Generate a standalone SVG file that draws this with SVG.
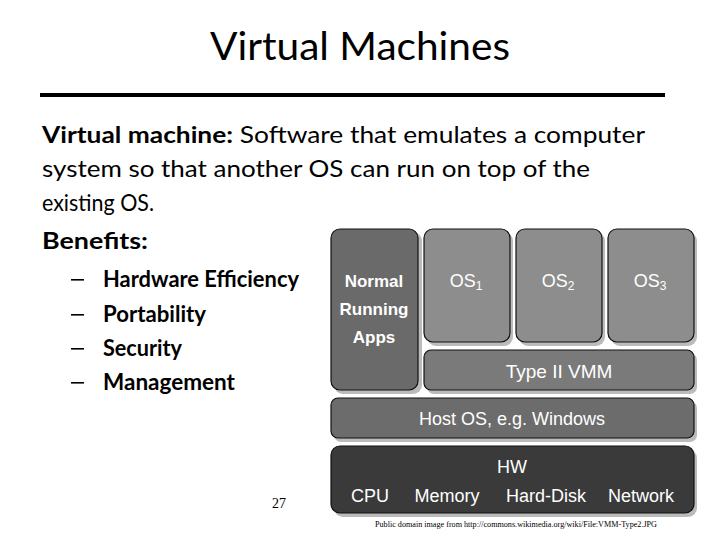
<svg xmlns="http://www.w3.org/2000/svg" width="720" height="540" viewBox="0 0 720 540">
<defs>
<style>
.body{font-family:Lato,"Liberation Sans",Arial,sans-serif;font-size:23px;fill:#000}
.b{font-weight:bold}
.w{font-family:"Liberation Sans",Arial,sans-serif;fill:#fff;text-anchor:middle}
.box{stroke:#111;stroke-width:1.2}
.sh{fill:#bbb}
</style>
</defs>
<rect width="720" height="540" fill="#fff"/>
<text x="360" y="60" text-anchor="middle" font-family="Lato,Liberation Sans,Arial,sans-serif" font-size="39" textLength="300" lengthAdjust="spacingAndGlyphs">Virtual Machines</text>
<rect x="40" y="93" width="625" height="4" fill="#000"/>
<text class="body" x="42" y="143" textLength="603" lengthAdjust="spacingAndGlyphs"><tspan class="b">Virtual machine:</tspan> Software that emulates a computer</text>
<text class="body" x="42" y="177" textLength="548" lengthAdjust="spacingAndGlyphs">system so that another OS can run on top of the</text>
<text class="body" x="42" y="211" textLength="112" lengthAdjust="spacingAndGlyphs">existing OS.</text>
<text class="body b" x="42" y="249" textLength="106" lengthAdjust="spacingAndGlyphs">Benefits:</text>
<g class="body b">
<rect x="71" y="279" width="13" height="1.6" fill="#000"/>
<rect x="71" y="314" width="13" height="1.6" fill="#000"/>
<rect x="71" y="348" width="13" height="1.6" fill="#000"/>
<rect x="71" y="382" width="13" height="1.6" fill="#000"/>
<text x="103" y="287" textLength="196" lengthAdjust="spacingAndGlyphs">Hardware Efficiency</text>
<text x="103" y="322" textLength="103" lengthAdjust="spacingAndGlyphs">Portability</text>
<text x="103" y="356" textLength="79" lengthAdjust="spacingAndGlyphs">Security</text>
<text x="103" y="390" textLength="132" lengthAdjust="spacingAndGlyphs">Management</text>
</g>
<text x="279" y="508" text-anchor="middle" font-family="Liberation Serif,serif" font-size="14">27</text>
<g id="shadows" class="sh">
<rect x="334" y="232" width="88" height="162" rx="9"/>
<rect x="427" y="232" width="86" height="114" rx="9"/>
<rect x="519" y="232" width="86" height="114" rx="9"/>
<rect x="611" y="232" width="86" height="114" rx="9"/>
<rect x="427" y="353" width="270" height="41" rx="7"/>
<rect x="334" y="401" width="363" height="41" rx="7"/>
<rect x="334" y="449" width="363" height="68" rx="9"/>
</g>
<g id="apps"><rect class="box" x="331" y="229" width="87" height="161" rx="9" fill="#6a6a6a"/>
<text class="w" font-weight="bold" font-size="17"><tspan x="374" y="287">Normal</tspan><tspan x="374" y="315">Running</tspan><tspan x="374" y="343">Apps</tspan></text></g>
<g id="os1"><rect class="box" x="424" y="229" width="86" height="113" rx="9" fill="#8d8d8d"/>
<text class="w" x="466" y="287" font-size="18">OS<tspan font-size="12" dy="3">1</tspan></text></g>
<g id="os2"><rect class="box" x="516" y="229" width="86" height="113" rx="9" fill="#8d8d8d"/>
<text class="w" x="558" y="287" font-size="18">OS<tspan font-size="12" dy="3">2</tspan></text></g>
<g id="os3"><rect class="box" x="608" y="229" width="86" height="113" rx="9" fill="#8d8d8d"/>
<text class="w" x="650" y="287" font-size="18">OS<tspan font-size="12" dy="3">3</tspan></text></g>
<g id="vmm"><rect class="box" x="424" y="350" width="270" height="40" rx="7" fill="#7a7a7a"/>
<text class="w" x="559" y="378" font-size="19">Type II VMM</text></g>
<g id="host"><rect class="box" x="331" y="398" width="363" height="40" rx="7" fill="#6c6c6c"/>
<text class="w" x="512" y="425" font-size="18">Host OS, e.g. Windows</text></g>
<g id="hw"><rect class="box" x="331" y="446" width="363" height="67" rx="9" fill="#3a3a3a"/>
<text class="w" x="512" y="473" font-size="18">HW</text>
<text class="w" x="370" y="502" font-size="18">CPU</text>
<text class="w" x="447" y="502" font-size="18">Memory</text>
<text class="w" x="546" y="502" font-size="18">Hard-Disk</text>
<text class="w" x="641" y="502" font-size="18">Network</text></g>
<g id="connectors"/>
<text x="516" y="527" text-anchor="middle" font-family="Liberation Serif,serif" font-size="8.5" textLength="282" lengthAdjust="spacingAndGlyphs">Public domain image from http://commons.wikimedia.org/wiki/File:VMM-Type2.JPG</text>
</svg>
